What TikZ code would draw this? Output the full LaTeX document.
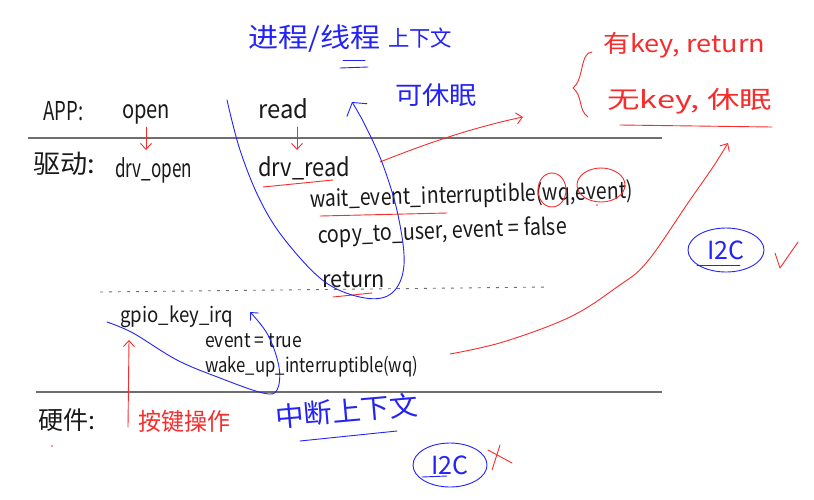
\documentclass[tikz,border=0pt]{standalone}
\usepackage{fontspec}
\usepackage{graphicx}
\setmainfont{Noto Sans CJK SC}
\usetikzlibrary{arrows.meta,shapes.geometric}
\definecolor{ink}{RGB}{25,25,25}
\definecolor{bink}{RGB}{35,35,245}
\definecolor{rink}{RGB}{245,45,45}
\definecolor{rulec}{RGB}{110,110,110}
\newcommand\fitto[2]{\resizebox{#1}{\height}{#2}}
\newcommand\fsz[1]{\fontsize{#1}{#1}\selectfont}
\begin{document}
\begin{tikzpicture}[x=1pt,y=-1pt,
  lat/.style={inner sep=0pt, anchor=base west},
  han/.style={inner sep=0pt, anchor=west},
  kt/.style={text=ink}, bt/.style={text=bink}, rt/.style={text=rink},
  rline/.style={draw=rink, line width=0.9pt, line cap=round, line join=round},
  bline/.style={draw=bink, line width=0.9pt, line cap=round, line join=round},
  rulel/.style={draw=rulec, line width=1.4pt},
  dashl/.style={draw=rulec, line width=0.9pt, dash pattern=on 3pt off 6pt},
  sbarb/.style={-{Straight Barb[length=6pt,width=11pt]}},
  bbarb/.style={-{Straight Barb[length=9pt,width=24pt]}},
  oval/.style={ellipse, draw=bink, line width=0.9pt, inner sep=0pt, text=bink}
]
\useasboundingbox (0,0) rectangle (814,499);
\fill[white] (0,0) rectangle (814,499);

% rules
\coordinate (r1a) at (28,138); \coordinate (r1b) at (662,138);
\coordinate (r2a) at (36,392); \coordinate (r2b) at (662,392);
\coordinate (d1a) at (100,292); \coordinate (d1b) at (548,287);
\draw[rulel] (r1a) -- (r1b);
\draw[rulel] (r2a) -- (r2b);
\draw[dashl] (d1a) -- (d1b);

% black text
\node[lat,kt] (app) at (43,120) {\fsz{26}\fitto{40pt}{APP:}};
\node[lat,kt] (open) at (122,118) {\fsz{25}\fitto{48pt}{open}};
\node[lat,kt] (read) at (258,118) {\fsz{25}\fitto{50pt}{read}};
\node[han,kt] (qd) at (33,164) {\fsz{26}\fitto{62pt}{驱动:}};
\node[lat,kt] (dopen) at (115,177) {\fsz{25}\fitto{77pt}{drv\_open}};
\node[lat,kt] (dread) at (258,176) {\fsz{25}\fitto{92pt}{drv\_read}};
\node[lat,kt,rotate=1.5] (wait) at (310,207) {\fsz{23}\fitto{323pt}{wait\_event\_interruptible(wq,event)}};
\node[lat,kt,rotate=2] (copy) at (318,243) {\fsz{23}\fitto{249pt}{copy\_to\_user, event = false}};
\node[lat,kt] (ret) at (322,287) {\fsz{23}\fitto{63pt}{return}};
\node[lat,kt] (gpio) at (120,322) {\fsz{21}\fitto{113pt}{gpio\_key\_irq}};
\node[lat,kt] (evt) at (205,347) {\fsz{20}\fitto{97pt}{event = true}};
\node[lat,kt] (wake) at (205,372) {\fsz{20}\fitto{213pt}{wake\_up\_interruptible(wq)}};
\node[han,kt] (yj) at (38,420) {\fsz{25}\fitto{57pt}{硬件:}};

% red text
\node[han,rt] (ajcz) at (138,421) {\fsz{24}\fitto{92pt}{按键操作}};
\node[lat,rt] (ykey) at (603,52) {\fsz{24}\fitto{162pt}{有key, return}};
\node[lat,rt] (wkey) at (607,108) {\fsz{24}\fitto{165pt}{无key, 休眠}};

% blue text
\node[han,bt] (jc) at (248,39) {\fsz{27}\fitto{132pt}{进程/线程}};
\node[han,bt] (sxw) at (388,38) {\fsz{22}\fitto{64pt}{上下文}};
\node[han,bt] (kxm) at (395,95) {\fsz{25}\fitto{82pt}{可休眠}};
\node[han,bt,rotate=5] (zdsx) at (275,417) {\fsz{27}\fitto{143pt}{中断上下文}};
\node[oval, minimum width=76pt, minimum height=44pt] (i2ca) at (726,250) {\fsz{25}I2C};
\node[oval, minimum width=74pt, minimum height=44pt] (i2cb) at (450,465) {\fsz{25}I2C};

% small marks
\draw[bline] (343,60) -- (365,60);
\draw[bline] (340,68) -- (368,67);
\draw[bline] (300,441) -- (397,431);
\draw[bline] (697,265) -- (740,265);
\draw[bline] (422,477) -- (447,476);
\draw[rline] (263,187) -- (333,180);
\draw[rline] (320,216) -- (447,213);
\draw[rline] (333,297) -- (372,293);
\draw[rline] (620,125) -- (772,127);
\draw[rline] (552,190) ellipse [x radius=14, y radius=17];
\draw[rline] (601,185) ellipse [x radius=24, y radius=17];
\fill[rink] (597,205) circle (0.8);
\fill[rink] (52,446) circle (0.9);
\draw[rline] (592,52) .. controls (580,52) and (584,80) .. (573,88) .. controls (583,96) and (578,110) .. (588,117);
\draw[rline] (775,253) -- (780,268) -- (798,242);
\draw[rline] (488,450) -- (512,463);
\draw[rline] (492,470) -- (500,445);

% arrows
\coordinate (a1s) at (146,127); \coordinate (a1e) at (146,150);
\coordinate (a2s) at (297,127); \coordinate (a2e) at (297,150);
\coordinate (a3s) at (128,427); \coordinate (a3e) at (129,340);
\draw[rline,sbarb] (a1s) -- (a1e);
\draw[rline,sbarb] (a2s) -- (a2e);
\draw[rline,sbarb] (a3s) -- (a3e);
\coordinate (c1s) at (380,162); \coordinate (c1e) at (523,117);
\draw[rline,sbarb] (c1s) .. controls (420,146) and (470,128) .. (c1e);
\draw[rline,sbarb] plot[smooth, tension=0.6] coordinates {(450,354) (503,342) (570,317) (617,287) (647,262) (690,200) (713,167) (728,143)};
\draw[bline,bbarb] plot[smooth, tension=0.6] coordinates {(227,100) (240,150) (260,200) (285,240) (325,282) (365,298) (392,293) (404,265) (398,215) (383,165) (365,125) (352,102)};
\draw[bline,sbarb] plot[smooth, tension=0.6] coordinates {(107,322) (133,333) (177,360) (220,378) (263,393) (277,390) (279,367) (268,335) (250,312)};
\end{tikzpicture}
\end{document}
